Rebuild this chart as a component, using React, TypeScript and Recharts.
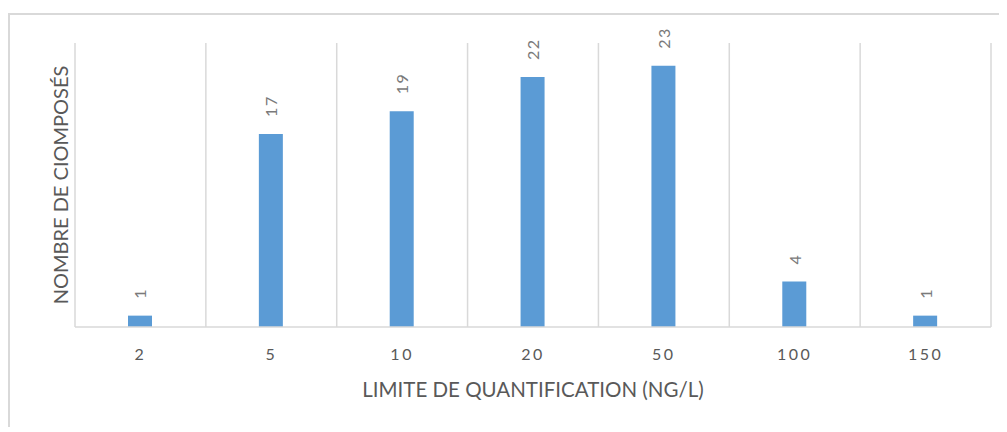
import React from 'react';
import { BarChart, Bar, XAxis, YAxis, CartesianGrid, LabelList } from 'recharts';

// limite de quantification (ng/L) et nombre de composés
const limits = ['2', '5', '10', '20', '50', '100', '150'];
const counts = [1, 17, 19, 22, 23, 4, 1];
const yTicks = [0, 5, 10, 15, 20, 25];

const data = limits.map((l, i) => ({ limit: l, count: counts[i] }));

const FONT = 'Lato, "Open Sans", sans-serif';
const GREY = '#595959';

const ValueLabel = (props: any) => {
  const { x, y, width, value } = props;
  const cx = x + width / 2;
  const ty = y - 17;
  return (
    <text
      x={cx}
      y={ty}
      transform={`rotate(-90, ${cx}, ${ty})`}
      textAnchor="start"
      dominantBaseline="central"
      fontSize={16}
      letterSpacing={1.5}
      fill="#7a7a7a"
      fontFamily={FONT}
    >
      {value}
    </text>
  );
};

const App: React.FC = () => {
  return (
    <div style={{ position: 'relative', width: 999, height: 419, fontFamily: FONT }}>
      <div
        style={{
          position: 'absolute',
          left: 0,
          top: 5,
          width: 999,
          height: 414,
          borderTop: '2px solid #d9d9d9',
          borderLeft: '2px solid #d9d9d9',
          boxSizing: 'border-box',
        }}
      />
      <div style={{ position: 'absolute', left: 0, top: 0 }}>
        <BarChart width={999} height={419} data={data} margin={{ top: 35, right: 16, left: 0, bottom: 0 }}>
          <CartesianGrid
            horizontal={false}
            stroke="#d9d9d9"
            strokeWidth={1.5}
            verticalCoordinatesGenerator={({ offset }: any) =>
              data.map((_, i) => offset.left + (i * offset.width) / data.length).concat(offset.left + offset.width)
            }
          />
          <XAxis
            dataKey="limit"
            height={100}
            axisLine={{ stroke: '#d9d9d9', strokeWidth: 1.5 }}
            tickLine={false}
            tickMargin={16}
            tick={{ fontSize: 16, fill: GREY, letterSpacing: 2.5, fontFamily: FONT }}
            label={(p: any) => {
              const vb = p.viewBox;
              return (
                <text
                  x={vb.x + vb.width / 2}
                  y={vb.y + 62}
                  textAnchor="middle"
                  dominantBaseline="central"
                  fontSize={20.5}
                  fill={GREY}
                  fontFamily={FONT}
                >
                  LIMITE DE QUANTIFICATION (NG/L)
                </text>
              );
            }}
          />
          <YAxis
            width={67}
            domain={[0, 25]}
            ticks={yTicks}
            tick={false}
            axisLine={false}
            tickLine={false}
            label={(p: any) => {
              const vb = p.viewBox;
              const lx = vb.x + 52;
              const ly = vb.y + vb.height / 2;
              return (
                <text
                  x={lx}
                  y={ly}
                  transform={`rotate(-90, ${lx}, ${ly})`}
                  textAnchor="middle"
                  dominantBaseline="central"
                  fontSize={20}
                  fill={GREY}
                  fontFamily={FONT}
                >
                  NOMBRE DE CIOMPOSÉS
                </text>
              );
            }}
          />
          <Bar dataKey="count" fill="#5b9bd5" barSize={24} isAnimationActive={false}>
            <LabelList dataKey="count" content={ValueLabel} />
          </Bar>
        </BarChart>
      </div>
    </div>
  );
};

export default App;
